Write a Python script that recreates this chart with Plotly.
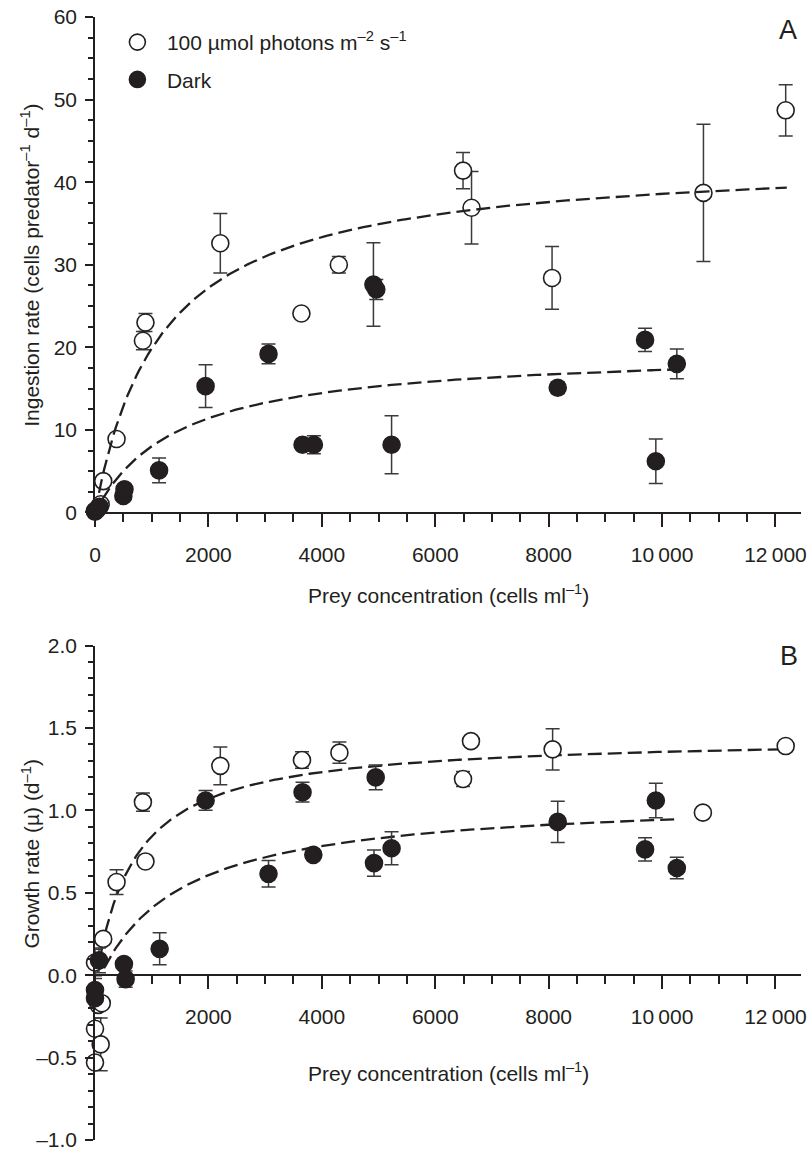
import numpy as np
import plotly.graph_objects as go

# ---------------- Panel A: ingestion rate ----------------
a_light_x = [0, 50, 100, 145, 380, 845, 890, 2210, 3640, 4300, 6490, 6640, 8060, 10730, 12180]
a_light_y = [0.2, 0.5, 1.0, 3.8, 8.9, 20.8, 23.0, 32.6, 24.1, 30.0, 41.4, 36.9, 28.4, 38.7, 48.7]
a_light_e = [0, 0, 0, 0, 0, 1.1, 1.1, 3.6, 0, 1.0, 2.2, 4.4, 3.8, 8.3, 3.1]

a_dark_x = [0, 30, 80, 500, 520, 1130, 1950, 3060, 3660, 3860, 4910, 4960, 5230, 8160, 9700, 9890, 10260]
a_dark_y = [0.1, 0.3, 0.7, 2.0, 2.8, 5.1, 15.3, 19.2, 8.2, 8.2, 27.6, 27.0, 8.2, 15.1, 20.9, 6.2, 18.0]
a_dark_e = [0, 0, 0, 0, 0, 1.5, 2.6, 1.2, 0, 1.1, 5.05, 1.2, 3.5, 0.7, 1.4, 2.7, 1.8]

# Michaelis-Menten fit parameters: Imax, K, threshold, x-start, x-end
a_light_fit = dict(vmax=43.1, k=1170, x0=0, start=0, end=12200)
a_dark_fit = dict(vmax=19.8, k=1470, x0=0, start=120, end=10300)

# ---------------- Panel B: growth rate ----------------
b_light_x = [0, 145, 60, 120, 0, 100, 0, 380, 845, 890, 2210, 3650, 4310, 6490, 6630, 8070, 10720, 12180]
b_light_y = [0.077, 0.22, -0.18, -0.17, -0.325, -0.42, -0.53, 0.565, 1.05, 0.69, 1.27, 1.305, 1.35, 1.19, 1.42, 1.37, 0.986, 1.39]
b_light_e = [0.08, 0, 0, 0, 0.065, 0.16, 0, 0.075, 0.055, 0, 0.115, 0.05, 0.065, 0.045, 0, 0.125, 0.02, 0]

b_dark_x = [0, 0, 70, 510, 540, 1140, 1950, 3060, 3660, 3850, 4920, 4950, 5230, 8160, 9700, 9890, 10260]
b_dark_y = [-0.09, -0.14, 0.09, 0.068, -0.024, 0.16, 1.06, 0.615, 1.11, 0.73, 0.68, 1.20, 0.77, 0.93, 0.763, 1.06, 0.65]
b_dark_e = [0.07, 0, 0.075, 0, 0.05, 0.097, 0.06, 0.08, 0.06, 0, 0.08, 0.075, 0.1, 0.125, 0.07, 0.105, 0.065]

b_light_fit = dict(vmax=1.45, k=700, x0=30, start=40, end=12200)
b_dark_fit = dict(vmax=1.086, k=1500, x0=100, start=160, end=10300)

x_tickvals = [0, 2000, 4000, 6000, 8000, 10000, 12000]
x_ticktext_a = ["0", "2000", "4000", "6000", "8000", "10\u2009000", "12\u2009000"]
x_ticktext_b = ["", "2000", "4000", "6000", "8000", "10\u2009000", "12\u2009000"]
ya_tickvals = [0, 10, 20, 30, 40, 50, 60]
yb_tickvals = [-1.0, -0.5, 0.0, 0.5, 1.0, 1.5, 2.0]
yb_ticktext = ["\u20131.0", "\u20130.5", "0.0", "0.5", "1.0", "1.5", "2.0"]

INK = "#231f20"
FONT = "Liberation Sans, Arial, sans-serif"
MS = 17


def mm_curve(p):
    xs = np.linspace(p["start"], p["end"], 300)
    xe = np.clip(xs - p["x0"], 0, None)
    return xs, p["vmax"] * xe / (p["k"] + xe)


def points(x, y, e, filled, name, xa, ya, legend, group):
    return go.Scatter(
        x=x, y=y, mode="markers", name=name, showlegend=legend, legendgroup=group,
        xaxis=xa, yaxis=ya, cliponaxis=False,
        marker=dict(size=MS, color=INK if filled else "white",
                    line=dict(color=INK, width=1.6)),
        error_y=dict(type="data", array=e, visible=True, color="#3a3a3a",
                     thickness=1.5, width=7),
    )


def fit(p, xa, ya):
    xs, ys = mm_curve(p)
    return go.Scatter(x=xs, y=ys, mode="lines", showlegend=False, xaxis=xa, yaxis=ya,
                      legendgroup="fits",
                      line=dict(color=INK, width=2.3, dash="14px,6px"), hoverinfo="skip")


fig = go.Figure()
fig.add_trace(points(a_light_x, a_light_y, a_light_e, False,
                     "100 \u00b5mol photons m<sup>\u20132</sup> s<sup>\u20131</sup>", "x", "y", True, "light"))
fig.add_trace(points(a_dark_x, a_dark_y, a_dark_e, True, "Dark", "x", "y", True, "dark"))
fig.add_trace(fit(a_light_fit, "x", "y"))
fig.add_trace(fit(a_dark_fit, "x", "y"))
fig.add_trace(fit(b_light_fit, "x2", "y2"))
fig.add_trace(fit(b_dark_fit, "x2", "y2"))
fig.add_trace(points(b_light_x, b_light_y, b_light_e, False, "light", "x2", "y2", False, "light"))
fig.add_trace(points(b_dark_x, b_dark_y, b_dark_e, True, "dark", "x2", "y2", False, "dark"))

W, H = 811, 1155
L, R, T, B = 95, 4, 17, 7
ph = H - T - B


def fy(py):
    return (H - B - py) / ph


def fx(px):
    return (px - L) / (W - L - R)


axis_common = dict(showline=True, linecolor=INK, linewidth=1.6, ticks="outside",
                   tickcolor=INK, tickwidth=1.5, showgrid=False, zeroline=False,
                   ticklabeloverflow="allow",
                   tickfont=dict(size=21, color=INK, family=FONT))

fig.update_layout(
    width=W, height=H,
    margin=dict(l=L, r=R, t=T, b=B),
    paper_bgcolor="white", plot_bgcolor="white",
    font=dict(family=FONT, color=INK, size=21),
    xaxis=dict(axis_common, domain=[0, 1], range=[0, 12450], anchor="y",
               tickvals=x_tickvals, ticktext=x_ticktext_a, ticklen=13, ticklabelstandoff=10,
               minor=dict(dtick=500, tick0=0, ticklen=8, tickwidth=1.5, tickcolor=INK, ticks="outside")),
    yaxis=dict(axis_common, domain=[fy(516), 1], range=[0, 60], anchor="x",
               tickvals=ya_tickvals, ticklen=8, ticklabelstandoff=4,
               minor=dict(dtick=2.5, tick0=0, ticklen=5, tickwidth=1.5, tickcolor=INK, ticks="outside")),
    xaxis2=dict(axis_common, domain=[0, 1], range=[0, 12450], anchor="free", position=fy(982),
                tickvals=x_tickvals, ticktext=x_ticktext_b, ticklen=13, ticklabelstandoff=10,
                minor=dict(dtick=500, tick0=0, ticklen=8, tickwidth=1.5, tickcolor=INK, ticks="outside")),
    yaxis2=dict(axis_common, domain=[0, fy(650)], range=[-1, 2], anchor="x2",
                tickvals=yb_tickvals, ticktext=yb_ticktext, ticklen=8, ticklabelstandoff=4,
                minor=dict(dtick=0.1, tick0=0, ticklen=5, tickwidth=1.5, tickcolor=INK, ticks="outside")),
    legend=dict(x=fx(108), y=fy(22), xanchor="left", yanchor="top",
                bgcolor="rgba(0,0,0,0)", font=dict(size=21, color=INK, family=FONT),
                traceorder="grouped", itemwidth=49, tracegroupgap=7),
    showlegend=True,
)

ann = [
    dict(text="Ingestion rate (cells predator<sup>\u20131</sup> d<sup>\u20131</sup>)",
         x=fx(30), y=fy(267), textangle=-90),
    dict(text="Growth rate (\u00b5) (d<sup>\u20131</sup>)", x=fx(30), y=fy(860), textangle=-90),
    dict(text="Prey concentration (cells ml<sup>\u20131</sup>)", x=fx(452), y=fy(598)),
    dict(text="Prey concentration (cells ml<sup>\u20131</sup>)", x=fx(452), y=fy(1080)),
    dict(text="A", x=fx(794), y=fy(30), font=dict(size=27, color=INK, family=FONT)),
    dict(text="B", x=fx(795), y=fy(661), font=dict(size=27, color=INK, family=FONT)),
]
for a in ann:
    a.setdefault("font", dict(size=21, color=INK, family=FONT))
    fig.add_annotation(xref="paper", yref="paper", showarrow=False,
                       xanchor="center", yanchor="middle", **a)

fig.write_html("out.html", config={"displayModeBar": False},
               post_script="document.body.style.margin='0';document.body.style.overflow='hidden';")
